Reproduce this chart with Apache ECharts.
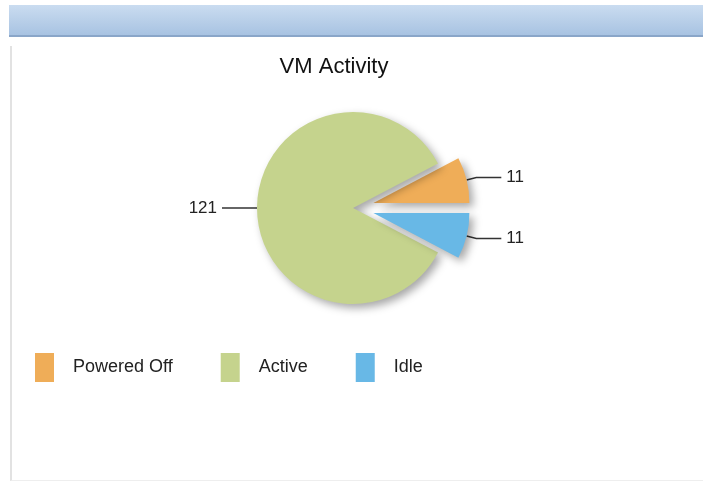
<!DOCTYPE html>
<html>
<head>
<meta charset="utf-8">
<title>VM Activity</title>
<script src="https://cdn.jsdelivr.net/npm/echarts@6/dist/echarts.min.js"></script>
<style>
  html, body {
    margin: 0;
    padding: 0;
    background: #fff;
  }

  .page {
    position: relative;
    width: 703px;
    height: 482px;
    overflow: hidden;
    background: #fff;
  }

  .header {
    position: absolute;
    left: 9px;
    top: 5px;
    width: 694px;
    height: 30px;
    background: linear-gradient(#cadcf0, #a8c3e2);
    border-bottom: 2px solid #8aa6c9;
  }

  .panel {
    position: absolute;
    left: 10px;
    top: 46px;
    width: 693px;
    height: 434px;
    border-left: 2px solid #e2e2e2;
    border-bottom: 1px solid #eeeeee;
  }

  #chart {
    position: absolute;
    left: 0;
    top: 0;
    width: 703px;
    height: 482px;
  }
</style>
</head>
<body>
<div class="page">
  <div class="header"></div>
  <div class="panel"></div>
  <div id="chart"></div>
</div>

<script>
// 虚拟机状态数据
const categories = ['Powered Off', 'Active', 'Idle']
const counts = [11, 121, 11]
const exploded = [true, false, true]
const colors = ['#efad58', '#c5d38d', '#68b8e6']

const fontFamily = '"Liberation Sans", Arial, sans-serif'

const pieData = categories.map((name, i) => ({
  name: name,
  value: counts[i],
  selected: exploded[i],
  itemStyle: { color: colors[i] }
}))

const options = {
  animation: false,
  title: {
    text: 'VM Activity',
    left: 329,
    top: 51,
    textAlign: 'center',
    textStyle: {
      fontFamily: fontFamily,
      fontSize: 22,
      fontWeight: 'normal',
      color: '#111'
    }
  },
  legend: {
    left: 35,
    top: 353,
    padding: 0,
    orient: 'horizontal',
    icon: 'rect',
    itemWidth: 19,
    itemHeight: 29,
    itemGap: 48,
    selectedMode: false,
    data: categories,
    itemStyle: {
      shadowBlur: 0,
      shadowOffsetX: 0,
      shadowOffsetY: 0
    },
    textStyle: {
      fontFamily: fontFamily,
      fontSize: 18,
      color: '#222',
      padding: [0, 0, 0, 14]
    }
  },
  series: [
    {
      type: 'pie',
      center: [353, 208],
      radius: 96,
      startAngle: 0,
      clockwise: false,
      selectedMode: 'multiple',
      selectedOffset: 21,
      avoidLabelOverlap: false,
      emphasis: { disabled: true },
      itemStyle: {
        shadowBlur: 9,
        shadowOffsetX: 4,
        shadowOffsetY: 4,
        shadowColor: 'rgba(0, 0, 0, 0.35)'
      },
      label: {
        show: true,
        formatter: '{c}',
        fontFamily: fontFamily,
        fontSize: 17,
        color: '#222'
      },
      labelLine: {
        show: true,
        length: 10,
        length2: 25,
        lineStyle: {
          color: '#333',
          width: 1.5
        }
      },
      data: pieData
    }
  ]
}

const myChart = echarts.init(document.querySelector('#chart'))
myChart.setOption(options)
</script>
</body>
</html>
